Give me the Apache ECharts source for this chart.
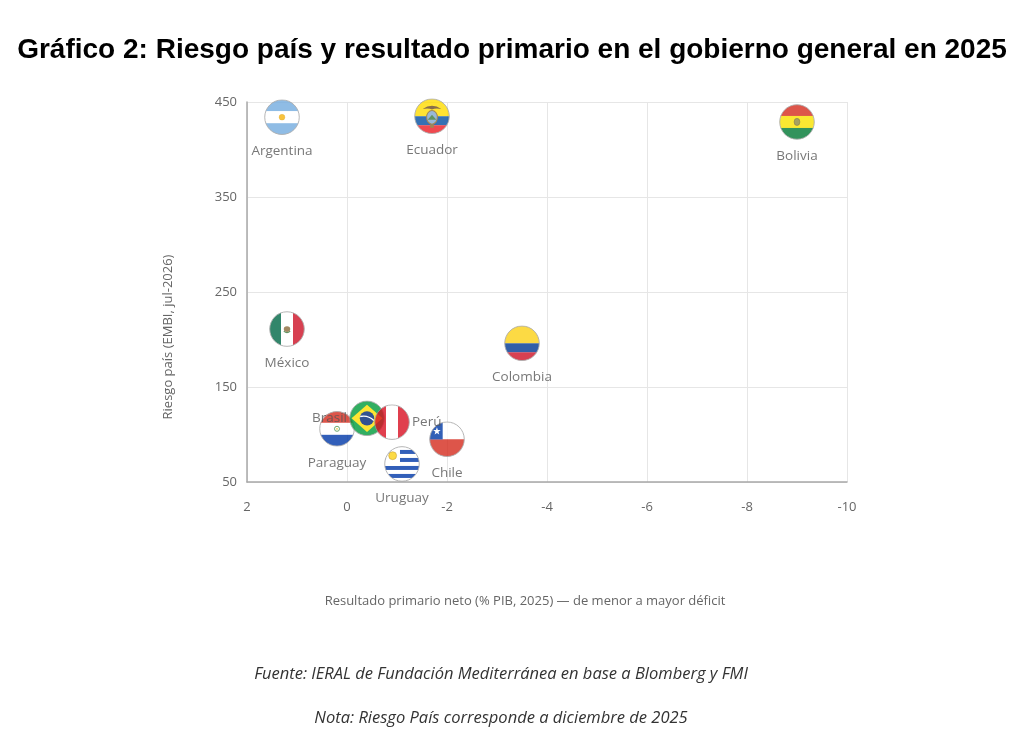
<!DOCTYPE html>
<html>
<head>
<meta charset="utf-8">
<script src="https://cdn.jsdelivr.net/npm/echarts@6/dist/echarts.min.js"></script>
<style>
html,body{margin:0;padding:0;background:#fff;}
#chart{width:1024px;height:734px;}
</style>
</head>
<body>
<div id="chart"></div>
<script>
// ---- Data ----
const countries      = ['Argentina', 'Ecuador', 'Bolivia', 'México', 'Colombia', 'Paraguay', 'Brasil', 'Perú', 'Chile', 'Uruguay'];
const primaryBalance = [1.3, -1.7, -9.0, 1.2, -3.5, 0.2, -0.4, -0.9, -2.0, -1.1];   // % PIB, 2025
const countryRisk    = [434, 435, 429, 211, 196, 106, 117, 113, 95, 69];            // EMBI
const xTicks = [2, 0, -2, -4, -6, -8, -10];
const yTicks = [50, 150, 250, 350, 450];

// ---- Styling helpers ----
const labelPos = { 'Brasil': 'left', 'Perú': 'right' };

function flagSymbol(inner) {
  const svg = '<svg xmlns="http://www.w3.org/2000/svg" width="100" height="100" viewBox="0 0 100 100">' +
    '<defs><clipPath id="c"><circle cx="50" cy="50" r="48"/></clipPath></defs>' +
    '<g clip-path="url(#c)">' + inner + '</g>' +
    '<circle cx="50" cy="50" r="48" fill="none" stroke="#9a9a9a" stroke-width="2.5"/></svg>';
  return 'image://data:image/svg+xml;charset=utf-8,' + encodeURIComponent(svg);
}
function hStripes(colors, heights) {
  let y = 0, s = '';
  colors.forEach((c, i) => { s += '<rect x="0" y="' + y + '" width="100" height="' + (heights[i] + 0.5) + '" fill="' + c + '"/>'; y += heights[i]; });
  return s;
}
function vStripes(colors) {
  let s = '';
  colors.forEach((c, i) => { s += '<rect x="' + (i * 100 / 3) + '" y="0" width="' + (100 / 3 + 0.5) + '" height="100" fill="' + c + '"/>'; });
  return s;
}
const flags = {
  'Argentina': hStripes(['#74ACDF', '#ffffff', '#74ACDF'], [33.3, 33.4, 33.3]) +
    '<circle cx="50" cy="50" r="8" fill="#F6B40E" stroke="#d99a00" stroke-width="1"/>',
  'Ecuador': hStripes(['#FFDD00', '#034EA2', '#ED1C24'], [50, 25, 25]) +
    '<path d="M24 30 Q50 12 76 30 Q60 27 50 31 Q40 27 24 30Z" fill="#6b4a1e"/>' +
    '<ellipse cx="50" cy="53" rx="15" ry="19" fill="#7fa7cf" stroke="#8a6a2a" stroke-width="3"/>' +
    '<path d="M38 60 L50 46 L62 60Z" fill="#3c7a3c"/>' +
    '<rect x="45" y="72" width="10" height="10" fill="#8a6a2a"/>',
  'Bolivia': hStripes(['#D52B1E', '#F9E300', '#007934'], [33.3, 33.4, 33.3]) +
    '<ellipse cx="50" cy="50" rx="8" ry="10" fill="#8f8a3a" stroke="#6b5a20" stroke-width="1.5"/>',
  'México': vStripes(['#006847', '#ffffff', '#CE1126']) +
    '<ellipse cx="50" cy="50" rx="9" ry="8" fill="#8c6b3c"/><path d="M41 56 Q50 64 59 56" stroke="#3c7a3c" stroke-width="3" fill="none"/>',
  'Colombia': hStripes(['#FCD116', '#003893', '#CE1126'], [50, 25, 25]),
  'Paraguay': hStripes(['#D52B1E', '#ffffff', '#0038A8'], [33.3, 33.4, 33.3]) +
    '<circle cx="50" cy="50" r="7" fill="#ffffff" stroke="#3a8a3a" stroke-width="2.5"/><circle cx="50" cy="50" r="2.5" fill="#e8c020"/>',
  'Brasil': '<rect width="100" height="100" fill="#009C3B"/>' +
    '<polygon points="50,12 93,50 50,88 7,50" fill="#FFDF00"/>' +
    '<circle cx="50" cy="50" r="20" fill="#002776"/>' +
    '<path d="M31 45 Q52 40 69 56" stroke="#ffffff" stroke-width="4" fill="none"/>',
  'Perú': vStripes(['#D91023', '#ffffff', '#D91023']),
  'Chile': '<rect width="100" height="50.5" fill="#ffffff"/><rect y="50" width="100" height="50" fill="#D52B1E"/>' +
    '<rect width="38" height="50.5" fill="#0039A6"/>' +
    '<polygon points="22,17 24.6,24.5 32.5,24.6 26.2,29.4 28.5,37 22,32.5 15.5,37 17.8,29.4 11.5,24.6 19.4,24.5" fill="#ffffff"/>',
  'Uruguay': (function () {
    let s = '<rect width="100" height="100" fill="#ffffff"/>';
    for (let i = 1; i < 9; i += 2) s += '<rect x="0" y="' + (i * 100 / 9) + '" width="100" height="' + (100 / 9) + '" fill="#0038A8"/>';
    s += '<rect width="44.4" height="55.5" fill="#ffffff"/>';
    s += '<circle cx="24" cy="27" r="11" fill="#FCD116" stroke="#b8860b" stroke-width="1.5"/>';
    return s;
  })()
};

const seriesData = countries.map((name, i) => ({
  name: name,
  value: [primaryBalance[i], countryRisk[i]],
  symbol: flagSymbol(flags[name]),
  label: { position: labelPos[name] || 'bottom', distance: labelPos[name] ? 2 : 9 }
}));

const chart = echarts.init(document.getElementById('chart'));
const axisFont = { color: '#666', fontSize: 13, fontFamily: 'Open Sans' };
chart.setOption({
  backgroundColor: '#ffffff',
  animation: false,
  title: {
    text: 'Gráfico 2: Riesgo país y resultado primario en el gobierno general en 2025',
    left: 'center',
    top: 31,
    textStyle: { fontFamily: 'Liberation Sans', fontWeight: 'bold', fontSize: 28, color: '#000' }
  },
  grid: { left: 247, right: 177, top: 102, bottom: 252, containLabel: false },
  xAxis: {
    type: 'value',
    inverse: true,
    min: xTicks[xTicks.length - 1],
    max: xTicks[0],
    interval: 2,
    axisLine: { show: true, onZero: false, lineStyle: { color: '#a8a8a8', width: 1.5 } },
    axisTick: { show: false },
    axisLabel: Object.assign({ margin: 19 }, axisFont),
    splitLine: { show: true, lineStyle: { color: '#e6e6e6', width: 1 } }
  },
  yAxis: {
    type: 'value',
    min: yTicks[0],
    max: yTicks[yTicks.length - 1],
    interval: 100,
    axisLine: { show: true, onZero: false, lineStyle: { color: '#a8a8a8', width: 1.5 } },
    axisTick: { show: false },
    axisLabel: Object.assign({ margin: 10 }, axisFont),
    splitLine: { show: true, lineStyle: { color: '#e6e6e6', width: 1 } }
  },
  graphic: [
    { type: 'text', x: 168, y: 337, rotation: Math.PI / 2,
      style: { text: 'Riesgo país (EMBI, jul-2026)', fill: '#666', font: '13px "Open Sans"', textAlign: 'center', textVerticalAlign: 'middle' } },
    { type: 'text', x: 525, y: 601,
      style: { text: 'Resultado primario neto (% PIB, 2025) — de menor a mayor déficit', fill: '#666', font: '13px "Open Sans"', textAlign: 'center', textVerticalAlign: 'middle' } },
    { type: 'text', x: 501, y: 674,
      style: { text: 'Fuente: IERAL de Fundación Mediterránea en base a Blomberg y FMI', fill: '#333', font: 'italic 16.5px "Open Sans"', textAlign: 'center', textVerticalAlign: 'middle' } },
    { type: 'text', x: 501, y: 718,
      style: { text: 'Nota: Riesgo País corresponde a diciembre de 2025', fill: '#333', font: 'italic 16.5px "Open Sans"', textAlign: 'center', textVerticalAlign: 'middle' } }
  ],
  series: [{
    type: 'scatter',
    symbolSize: 36,
    data: seriesData,
    label: {
      show: true,
      formatter: '{b}',
      color: '#555',
      fontSize: 13.5,
      fontFamily: 'Open Sans'
    },
    emphasis: { disabled: true }
  }]
});
</script>
</body>
</html>
